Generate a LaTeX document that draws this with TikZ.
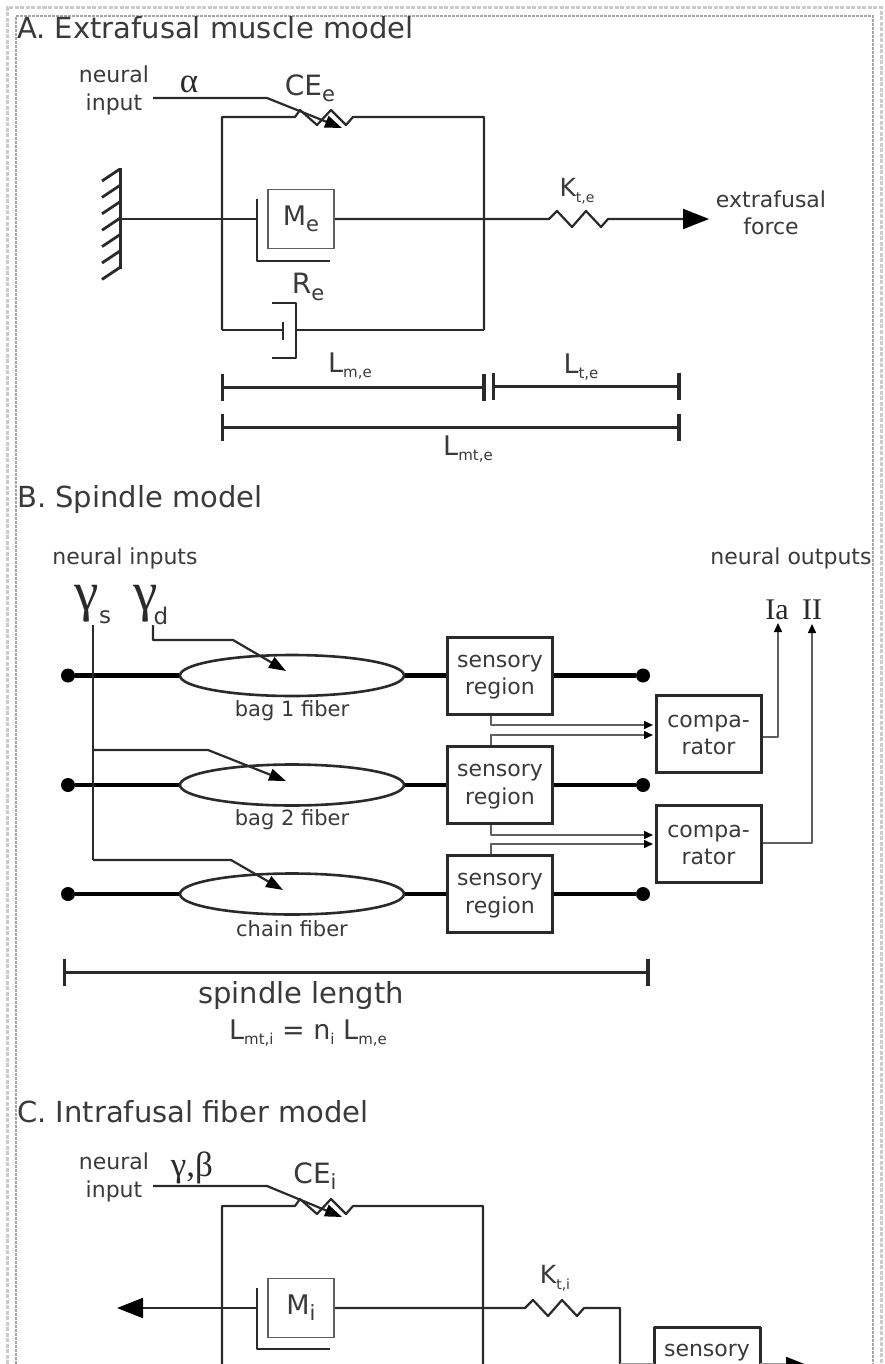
\documentclass[tikz,border=0pt]{standalone}
\usepackage{fontspec}
\setmainfont{DejaVu Sans}
\newfontfamily\greekserif{Liberation Serif}
\usetikzlibrary{arrows.meta,shapes.geometric}
\newcommand{\lowsub}[2][15]{\raisebox{-0.22em}{\fontsize{#1}{#1}\selectfont #2}}
\definecolor{ink}{HTML}{2A2A2A}
\definecolor{txt}{HTML}{3A3A3A}
\tikzset{
  x=1pt,y=-1pt,
  wire/.style={draw=ink,line width=2.2pt,line join=round},
  thinwire/.style={draw=ink!75,line width=1.5pt,line join=round},
  heavy/.style={draw=black,line width=4.5pt},
  dim/.style={draw=ink,line width=3pt},
  label/.style={text=txt,font=\fontsize{22}{27.5}\selectfont,align=center,inner sep=0pt},
  symbol/.style={text=txt,font=\fontsize{28}{28}\selectfont,inner sep=0pt},
  lenlabel/.style={text=txt,font=\fontsize{27}{28}\selectfont,inner sep=0pt},
  heading/.style={text=txt,font=\fontsize{29}{30}\selectfont,anchor=west,inner sep=0pt},
  serifsym/.style={text=ink,font=\greekserif\fontsize{35}{35}\selectfont,inner sep=0pt},
  massbox/.style={draw=ink!75,line width=1.5pt,fill=white,minimum width=66pt,minimum height=59pt,inner sep=0pt,text=txt,font=\fontsize{27}{28}\selectfont},
  sensorybox/.style={draw=ink,line width=3pt,fill=white,minimum width=105pt,minimum height=77pt,inner sep=0pt,align=center,text=txt,font=\fontsize{22}{27.5}\selectfont},
  fiber/.style={ellipse,draw=ink,line width=2.6pt,fill=white,minimum width=224pt,minimum height=41pt,inner sep=0pt},
  enddot/.style={circle,fill=black,minimum size=14pt,inner sep=0pt},
  bigtip/.style={-{Triangle[length=26pt,width=20pt,black]}},
  midtip/.style={-{Triangle[length=17pt,width=12pt,black]}},
  smalltip/.style={-{Triangle[length=9pt,width=8pt,black]}},
  barred/.style={{Bar[width=27pt,line width=3.4pt]}-{Bar[width=27pt,line width=3.4pt]}},
}
\begin{document}
\begin{tikzpicture}
\useasboundingbox (0,0) rectangle (885,1364);
\clip (0,0) rectangle (885,1364);
\fill[white] (0,0) rectangle (885,1364);
% page frames
\draw[gray!40,line width=3pt,dash pattern=on 4pt off 1.5pt] (7,1364) -- (7,8) -- (881,8) -- (881,1364);
\draw[gray!70,line width=1.2pt,dash pattern=on 3pt off 1pt] (16,1364) -- (16,16) -- (873,16) -- (873,1364);

%% ---------- A
\node[heading] (titleA) at (17,28) {A. Extrafusal muscle model};
\node[label] (neuralA) at (114,90.5) {neural\\input};
\node[serifsym] (alphaA) at (189,84) {α};
\node[symbol] (ceA) at (310,88) {CE\lowsub[21]{e}};
\coordinate (inA) at (153,98);
\coordinate (bendA) at (267,98);
\coordinate (tipA) at (342,128);
\coordinate (tlA) at (222,117);
\coordinate (trA) at (484,117);
\coordinate (blA) at (222,330);
\coordinate (brA) at (484,330);
% contractile element and frame
\draw[wire] (blA) -- (tlA) -- (295,117) -- (300,110) -- (317,125) -- (331,110) -- (346,125) -- (353,117) -- (trA) -- (brA);
\draw[wire,midtip] (inA) -- (bendA) -- (tipA);
% wall
\coordinate (wallTop) at (120,168);
\coordinate (wallBot) at (120,269);
\draw[wire,line width=3pt] (wallTop) -- (wallBot);
\foreach \i in {0,...,6} \draw[wire,line width=2.8pt] (120,169+16.4*\i) -- (102,181+16.4*\i);
% mass
\node[massbox] (massA) at (301,219) {M\lowsub[21]{e}};
\coordinate (dashA) at (257,219);
\draw[wire] (120,219) -- (dashA);
\draw[wire] (257,199) -- (257,261) -- (330,261);
% tendon
\draw[wire] (massA.east) -- (549,219) -- (557,211) -- (572,227) -- (586,211) -- (601,227) -- (608,219) -- (690,219);
\coordinate (forceA) at (709,219);
\draw[wire,bigtip] (680,219) -- (forceA);
\node[label] (forcelabel) at (771,213) {extrafusal\\force};
\node[lenlabel,font=\fontsize{25}{28}\selectfont] (ktA) at (577,191) {K\lowsub[14]{t,e}};
% damper
\node[symbol] (reA) at (308,287) {R\lowsub[21]{e}};
\draw[wire] (blA) -- (283,330);
\draw[wire,line width=2.8pt] (283,322) -- (283,340);
\draw[wire] (272,303) -- (296,303) -- (296,358) -- (272,358);
\draw[wire] (296,330) -- (brA);
% dimensions
\coordinate (d1) at (220.5,387); \coordinate (d2) at (485.5,387);
\coordinate (d3) at (491.5,386); \coordinate (d4) at (680.5,386);
\coordinate (d5) at (220.5,427); \coordinate (d6) at (680.5,427);
\draw[dim,barred] (d1) -- (d2);
\draw[dim,barred] (d3) -- (d4);
\draw[dim,barred] (d5) -- (d6);
\node[lenlabel] (lme) at (350,366) {L\lowsub{m,e}};
\node[lenlabel] (lte) at (581,367) {L\lowsub{t,e}};
\node[lenlabel] (lmte) at (468,449) {L\lowsub{mt,e}};

%% ---------- B
\node[heading] (titleB) at (17,499) {B. Spindle model};
\node[label] (ninputs) at (125,558) {neural inputs};
\node[label] (noutputs) at (791,558) {neural outputs};
\node[serifsym,font=\greekserif\fontsize{55}{55}\selectfont] (gs) at (87,604) {γ};
\node[label,font=\fontsize{23}{28}\selectfont] (gssub) at (105,617) {s};
\node[serifsym,font=\greekserif\fontsize{55}{55}\selectfont] (gd) at (146,604) {γ};
\node[label,font=\fontsize{23}{28}\selectfont] (gdsub) at (161,616) {d};
\node[text=ink,font=\greekserif\fontsize{30}{30}\selectfont,inner sep=0pt] (Ia) at (777,610) {Ia};
\node[text=ink,font=\greekserif\fontsize{30}{30}\selectfont,inner sep=0pt] (II) at (812,610) {II};
% rows of fibres
\foreach \nm/\yy/\lab in {a/675.5/bag 1 fiber,b/785/bag 2 fiber,c/894/chain fiber}{
  \node[enddot] (l\nm) at (68,\yy) {};
  \node[enddot] (r\nm) at (643,\yy) {};
  \node[fiber] (f\nm) at (292,\yy) {};
  \node[sensorybox] (s\nm) at (500,\yy) {\rule{0pt}{16pt}sensory\\region};
  \draw[heavy] (l\nm) -- (f\nm);
  \draw[heavy] (f\nm) -- (s\nm);
  \draw[heavy] (s\nm) -- (r\nm);
  \node[label,font=\fontsize{21}{28}\selectfont] (t\nm) at (292,\yy+35) {\lab};
}
% gamma connectors
\coordinate (gsTop) at (93,625);
\coordinate (gsBot) at (93,860);
\coordinate (gdTop) at (153,625);
\coordinate (tipa) at (286,671);
\coordinate (tipb) at (286,781);
\coordinate (tipc) at (283,890);
\draw[wire] (gsTop) -- (gsBot);
\draw[wire,midtip] (gdTop) -- (153,640) -- (233,640) -- (tipa);
\draw[wire,midtip] (93,750) -- (208,750) -- (tipb);
\draw[wire,midtip] (gsBot) -- (231,860) -- (tipc);
% comparators
\node[sensorybox] (c1) at (708.5,734) {\rule{0pt}{14pt}compa-\\rator};
\node[sensorybox] (c2) at (708.5,844) {\rule{0pt}{14pt}compa-\\rator};
\coordinate (x491) at (491,0);
\draw[thinwire,smalltip] (sa.south -| x491) -- (491,725) -- (653,725);
\draw[thinwire,smalltip] (sb.north -| x491) -- (491,735) -- (653,735);
\draw[thinwire,smalltip] (sb.south -| x491) -- (491,835) -- (653,835);
\draw[thinwire,smalltip] (sc.north -| x491) -- (491,844) -- (653,844);
\draw[thinwire,smalltip] (c1.east |- 0,737) -- (778,737) -- (778,623);
\draw[thinwire,smalltip] (c2.east |- 0,843) -- (812,843) -- (812,624);
% spindle length
\coordinate (sl1) at (62.5,972); \coordinate (sl2) at (649.5,972);
\draw[dim,barred] (sl1) -- (sl2);
\node[label,font=\fontsize{29}{30}\selectfont] (slabel) at (301,995) {spindle length};
\node[lenlabel] (seq) at (308,1033) {L\lowsub{mt,i} = n\lowsub{i} L\lowsub{m,e}};

%% ---------- C
\node[heading] (titleC) at (17,1112) {C. Intrafusal fiber model};
\node[label] (neuralC) at (114,1177.5) {neural\\input};
\node[serifsym] (gb) at (192,1168) {γ,β};
\node[symbol] (ceC) at (315,1176) {CE\lowsub[21]{i}};
\coordinate (inC) at (153,1186);
\coordinate (bendC) at (267,1186);
\coordinate (tipC) at (342,1217);
\coordinate (tlC) at (222,1206);
\coordinate (trC) at (483,1206);
\draw[wire] (222,1364) -- (tlC) -- (295,1206) -- (300,1199) -- (317,1214) -- (331,1199) -- (346,1214) -- (353,1206) -- (trC) -- (483,1364);
\draw[wire,midtip] (inC) -- (bendC) -- (tipC);
\node[massbox] (massC) at (301,1308) {M\lowsub[21]{i}};
\coordinate (forceC) at (117,1308);
\draw[wire] (257,1308) -- (140,1308);
\draw[wire,bigtip] (145,1308) -- (forceC);
\draw[wire] (257,1288) -- (257,1349) -- (330,1349);
% sensory box, cut by the lower edge of the picture
\node[text=txt,font=\fontsize{22}{28}\selectfont,inner sep=0pt] (sC) at (707,1353) {sensory};
\coordinate (sCl) at (654,1364);
\coordinate (sCr) at (760,1364);
\draw[wire,line width=3pt] (sCl) -- (654,1327) -- (760,1327) -- (sCr);
\draw[wire] (massC.east) -- (525,1308) -- (533,1300) -- (548,1316) -- (562,1300) -- (577,1316) -- (584,1308) -- (620,1308) -- (620,1364);
\draw[thinwire,draw=ink!50] (620,1364) -- (sCl);
\draw[thinwire,draw=ink!50] (sCr) -- (790,1364);
\coordinate (outC) at (812,1367);
\draw[wire,bigtip] (786,1367) -- (outC);
\node[lenlabel,font=\fontsize{25}{28}\selectfont] (ktC) at (555,1278) {K\lowsub[14]{t,i}};
\end{tikzpicture}
\end{document}
